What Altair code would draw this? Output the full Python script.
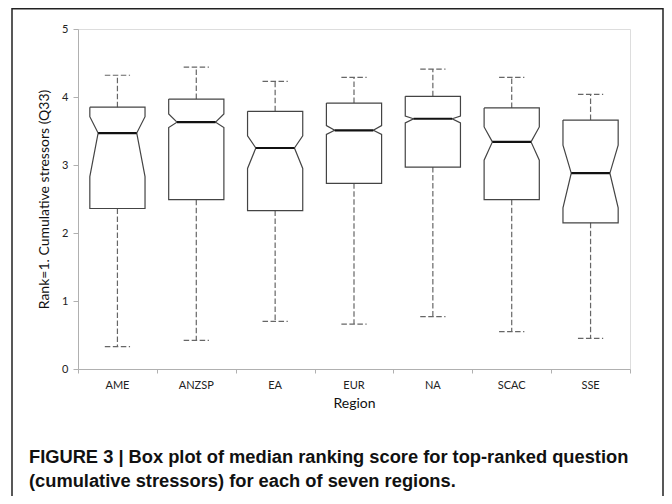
import altair as alt
import pandas as pd

regions = ["AME", "ANZSP", "EA", "EUR", "NA", "SCAC", "SSE"]
lower = [0.33, 0.42, 0.70, 0.66, 0.77, 0.55, 0.45]
q1 = [2.36, 2.49, 2.33, 2.73, 2.97, 2.49, 2.15]
notch_lo = [2.83, 3.55, 2.95, 3.45, 3.62, 3.07, 2.37]
median = [3.47, 3.63, 3.25, 3.51, 3.68, 3.34, 2.88]
notch_hi = [3.71, 3.75, 3.43, 3.58, 3.72, 3.56, 3.29]
q3 = [3.85, 3.97, 3.79, 3.91, 4.01, 3.84, 3.66]
upper = [4.32, 4.44, 4.23, 4.29, 4.41, 4.29, 4.04]

caption1 = "FIGURE 3 | Box plot of median ranking score for top-ranked question"
caption2 = "(cumulative stressors) for each of seven regions."

W = 0.35   # half box width (in band units)
N = 0.245  # half notch width
CAP = 0.16 # half cap width

df = pd.DataFrame({
    "region": regions, "lower": lower, "q1": q1, "nlo": notch_lo,
    "med": median, "nhi": notch_hi, "q3": q3, "upper": upper,
})
df["c"] = [i + 0.5 for i in range(len(regions))]
df["nl"] = df["c"] - N
df["nr"] = df["c"] + N
df["cl"] = df["c"] - CAP
df["cr"] = df["c"] + CAP

# polygon outline of notched boxes
rows = []
for i in range(len(regions)):
    c = i + 0.5
    pts = [
        (-W, q3[i]), (W, q3[i]), (W, notch_hi[i]), (N, median[i]), (W, notch_lo[i]),
        (W, q1[i]), (-W, q1[i]), (-W, notch_lo[i]), (-N, median[i]), (-W, notch_hi[i]), (-W, q3[i]),
    ]
    for k, (dx, yv) in enumerate(pts):
        rows.append({"region": regions[i], "k": k, "x": c + dx, "y": yv})
poly = pd.DataFrame(rows)

xscale = alt.Scale(domain=[0, len(regions)], nice=False, zero=False)
yscale = alt.Scale(domain=[0, 5], nice=False)

FONT = "Lato"
xaxis = alt.Axis(
    values=list(range(0, len(regions) + 1)), labels=False,
    grid=False, domainColor="#b0b0b0", tickColor="#b0b0b0", tickSize=4,
    title="Region", titleFont=FONT, titleFontSize=14,
    titleFontWeight="normal", titleColor="#111", titlePadding=23,
)
yaxis = alt.Axis(
    values=[v / 2 for v in range(0, 11)], format="d",
    labelExpr="datum.value % 1 === 0 ? datum.label : ''",
    labelOverlap=False, labelFlush=False,
    grid=False, domainColor="#b0b0b0", tickColor="#b0b0b0", tickSize=5, labelFontSize=11,
    labelFont=FONT, labelColor="#222", labelPadding=5, title="Rank=1. Cumulative stressors (Q33)",
    titleFont=FONT, titleFontSize=14, titleFontWeight="normal", titleColor="#111", titlePadding=10,
)

box = alt.Chart(poly).mark_line(color="#444", strokeWidth=1.2).encode(
    x=alt.X("x:Q", scale=xscale, axis=xaxis),
    y=alt.Y("y:Q", scale=yscale, axis=yaxis),
    detail="region:N",
    order="k:Q",
)

DASH = [5.5, 2.5]
WC = "#666"
base = alt.Chart(df)
med = base.mark_rule(color="#111", strokeWidth=2.2).encode(
    x=alt.X("nl:Q", scale=xscale), x2="nr:Q", y=alt.Y("med:Q", scale=yscale))
wu = base.mark_rule(color=WC, strokeWidth=1.2, strokeDash=DASH).encode(
    x=alt.X("c:Q", scale=xscale), y=alt.Y("q3:Q", scale=yscale), y2="upper:Q")
wl = base.mark_rule(color=WC, strokeWidth=1.2, strokeDash=DASH).encode(
    x=alt.X("c:Q", scale=xscale), y=alt.Y("q1:Q", scale=yscale), y2="lower:Q")
cu = base.mark_rule(color=WC, strokeWidth=1.2, strokeDash=DASH).encode(
    x=alt.X("cl:Q", scale=xscale), x2="cr:Q", y=alt.Y("upper:Q", scale=yscale))
cl = base.mark_rule(color=WC, strokeWidth=1.2, strokeDash=DASH).encode(
    x=alt.X("cl:Q", scale=xscale), x2="cr:Q", y=alt.Y("lower:Q", scale=yscale))
xlabels = base.mark_text(font=FONT, fontSize=11, color="#222", baseline="middle").encode(
    x=alt.X("c:Q", scale=xscale), y=alt.value(357), text="region:N")

one = pd.DataFrame({"a": [0]})
frame = alt.Chart(one).mark_rect(fillOpacity=0, stroke="#222", strokeWidth=1.5).encode(
    x=alt.value(-66), x2=alt.value(585), y=alt.value(-20.2), y2=alt.value(490))
cap1 = alt.Chart(one).mark_text(
    text=caption1, align="left", baseline="alphabetic", font="Liberation Sans",
    fontWeight="bold", fontSize=18.3, color="#111").encode(x=alt.value(-49), y=alt.value(434.3))
cap2 = alt.Chart(one).mark_text(
    text=caption2, align="left", baseline="alphabetic", font="Liberation Sans",
    fontWeight="bold", fontSize=18.3, color="#111").encode(x=alt.value(-49), y=alt.value(457.7))

chart = alt.layer(frame, wu, wl, cu, cl, box, med, xlabels, cap1, cap2).properties(
    width=552, height=340,
    padding={"left": 70, "top": 21, "right": 34, "bottom": 127},
    autosize=alt.AutoSizeParams(type="none"),
).configure_view(stroke=None).configure(background="white")

chart.save("out.html", embed_options={"renderer": "svg", "actions": False})
